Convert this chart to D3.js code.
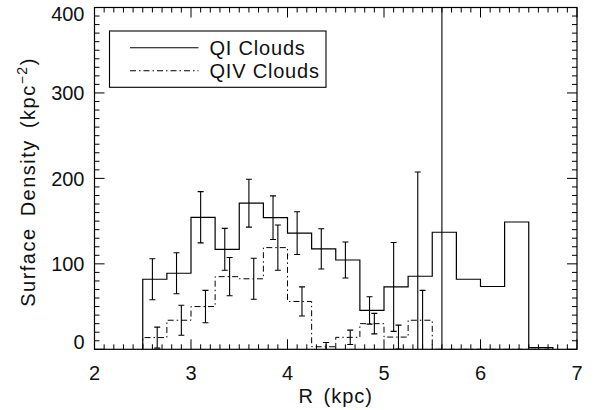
<!DOCTYPE html>
<html>
<head>
<meta charset="utf-8">
<script src="https://cdn.jsdelivr.net/npm/d3@7"></script>
<style>
  body { margin: 0; background: #fff; }
  text { font-family: "Liberation Sans", Arial, sans-serif; fill: #111; }
</style>
</head>
<body>
<div id="chart"></div>
<script>
const width = 597;
const height = 410;

// bin edges (kpc) shared by both histograms
const binEdges = [2.5, 2.75, 3.0, 3.25, 3.5, 3.75, 4.0, 4.25, 4.5, 4.75, 5.0, 5.25, 5.5, 5.75, 6.0, 6.25, 6.5, 6.75];

const qiDensity = [82, 89, 154.5, 117, 171, 154, 136, 117.5, 104.5, 45.5, 73, 85.5, 137, 82, 73.5, 149, 2];
const qivDensity = [13.7, 34, 50, 85, 82.5, 119, 56, 3, 14, 30, 14.3, 34, 0, 0, 0, 0, 0];

// error bars: position, value, +/- error
const qiErrR = [2.6, 2.85, 3.1, 3.35, 3.6, 3.85, 4.1, 4.35, 4.6, 4.85, 5.1, 5.35, 5.6];
const qiErrVal = [82, 89, 154.5, 117, 171, 154, 136, 117.5, 104.5, 45.5, 73, 85.5, 137];
const qiErr = [24, 24, 30, 24.5, 28, 25.5, 25, 23.5, 21, 16, 52, 122, 330];

const qivErrR = [2.65, 2.9, 3.15, 3.4, 3.65, 3.9, 4.15, 4.4, 4.65, 4.9, 5.15, 5.4];
const qivErrVal = [13.7, 34, 50, 85, 82.5, 119, 56, 3, 14, 30, 14.3, 34];
const qivErr = [12.3, 17.5, 19, 22.4, 24, 26.5, 17, 5, 8.4, 12, 14, 35];

const xMajor = [2, 3, 4, 5, 6, 7];
const yMajor = [0, 100, 200, 300, 400];

const legendItems = [
    { label: "QI Clouds", dash: null },
    { label: "QIV Clouds", dash: "6,3,1.5,3" }
];

const mLeft = 94.5, mRight = 577, mTop = 7.5, mBottom = 349.3;

const x = d3.scaleLinear().domain([2, 7]).range([mLeft, mRight]);
const y = d3.scaleLinear().domain([0, 400]).range([mBottom, mTop]);

const svg = d3.select("#chart")
    .append("svg")
    .attr("width", width)
    .attr("height", height);

svg.append("clipPath")
    .attr("id", "plot-clip")
    .append("rect")
    .attr("x", mLeft)
    .attr("y", mTop)
    .attr("width", mRight - mLeft)
    .attr("height", mBottom - mTop);

const plot = svg.append("g").attr("clip-path", "url(#plot-clip)");

// step histogram line
function stepPath(values) {
    const pts = [[binEdges[0], 0]];
    values.forEach((v, i) => {
        pts.push([binEdges[i], v]);
        pts.push([binEdges[i + 1], v]);
    });
    pts.push([binEdges[binEdges.length - 1], 0]);
    return d3.line().x(d => x(d[0])).y(d => y(d[1]))(pts);
}

plot.append("path")
    .attr("d", stepPath(qivDensity))
    .attr("fill", "none")
    .attr("stroke", "#000")
    .attr("stroke-width", 1)
    .attr("stroke-dasharray", "6,3,1.5,3");

plot.append("path")
    .attr("d", stepPath(qiDensity))
    .attr("fill", "none")
    .attr("stroke", "#000")
    .attr("stroke-width", 1.2);

// error bars
function errorBars(rs, vals, errs) {
    const data = rs.map((r, i) => ({ r: r, lo: vals[i] - errs[i], hi: vals[i] + errs[i] }));
    const g = plot.append("g")
        .attr("stroke", "#000")
        .attr("stroke-width", 1.1);
    g.selectAll(".bar")
        .data(data)
        .enter().append("line")
        .attr("x1", d => x(d.r))
        .attr("x2", d => x(d.r))
        .attr("y1", d => y(d.lo))
        .attr("y2", d => y(d.hi));
    g.selectAll(".cap-hi")
        .data(data)
        .enter().append("line")
        .attr("x1", d => x(d.r) - 3)
        .attr("x2", d => x(d.r) + 3)
        .attr("y1", d => y(d.hi))
        .attr("y2", d => y(d.hi));
    g.selectAll(".cap-lo")
        .data(data)
        .enter().append("line")
        .attr("x1", d => x(d.r) - 3)
        .attr("x2", d => x(d.r) + 3)
        .attr("y1", d => y(d.lo))
        .attr("y2", d => y(d.lo));
}

errorBars(qiErrR, qiErrVal, qiErr);
errorBars(qivErrR, qivErrVal, qivErr);

// frame
svg.append("rect")
    .attr("x", mLeft)
    .attr("y", mTop)
    .attr("width", mRight - mLeft)
    .attr("height", mBottom - mTop)
    .attr("fill", "none")
    .attr("stroke", "#000")
    .attr("stroke-width", 1.2);

// ticks, pointing inwards on all four sides
const xMinor = x.ticks(50);
const yMinor = y.ticks(40);
const ticks = svg.append("g").attr("stroke", "#000").attr("stroke-width", 1);
const isMajorX = d => xMajor.includes(Math.round(d * 10) / 10);

ticks.selectAll(".xt")
    .data(xMinor)
    .enter().append("line")
    .attr("x1", d => x(d)).attr("x2", d => x(d))
    .attr("y1", mBottom)
    .attr("y2", d => mBottom - (isMajorX(d) ? 10 : 5));
ticks.selectAll(".xtt")
    .data(xMinor)
    .enter().append("line")
    .attr("x1", d => x(d)).attr("x2", d => x(d))
    .attr("y1", mTop)
    .attr("y2", d => mTop + (isMajorX(d) ? 10 : 5));
ticks.selectAll(".yt")
    .data(yMinor)
    .enter().append("line")
    .attr("y1", d => y(d)).attr("y2", d => y(d))
    .attr("x1", mLeft)
    .attr("x2", d => mLeft + (yMajor.includes(d) ? 10 : 5));
ticks.selectAll(".ytr")
    .data(yMinor)
    .enter().append("line")
    .attr("y1", d => y(d)).attr("y2", d => y(d))
    .attr("x1", mRight)
    .attr("x2", d => mRight - (yMajor.includes(d) ? 10 : 5));

// tick labels
svg.selectAll(".xlab")
    .data(xMajor)
    .enter().append("text")
    .attr("x", d => x(d))
    .attr("y", 379.5)
    .attr("text-anchor", "middle")
    .attr("font-size", "20px")
    .text(d => d);

svg.selectAll(".ylab")
    .data(yMajor)
    .enter().append("text")
    .attr("x", 84.5)
    .attr("y", d => Math.min(Math.max(y(d), mTop + 6.5), mBottom - 7.5))
    .attr("dy", "0.36em")
    .attr("text-anchor", "end")
    .attr("font-size", "20px")
    .text(d => d);

// axis titles
svg.append("text")
    .attr("x", (mLeft + mRight) / 2)
    .attr("y", 403)
    .attr("text-anchor", "middle")
    .attr("font-size", "20px")
    .attr("letter-spacing", "1px")
    .attr("word-spacing", "3px")
    .text("R (kpc)");

const yTitle = svg.append("text")
    .attr("transform", "translate(35,182) rotate(-90)")
    .attr("text-anchor", "middle")
    .attr("font-size", "20px")
    .attr("letter-spacing", "1.5px")
    .attr("word-spacing", "4px");
yTitle.append("tspan").text("Surface Density (kpc");
yTitle.append("tspan").attr("dy", -8).attr("font-size", "14px").text("−2");
yTitle.append("tspan").attr("dy", 8).text(")");

// legend
svg.append("rect")
    .attr("x", 109.5)
    .attr("y", 31)
    .attr("width", 216.5)
    .attr("height", 56.3)
    .attr("fill", "#fff")
    .attr("stroke", "#000")
    .attr("stroke-width", 1.1);

const legend = svg.selectAll(".legend")
    .data(legendItems)
    .enter().append("g")
    .attr("transform", (d, i) => `translate(0,${47.7 + i * 23})`);

legend.append("line")
    .attr("x1", 130)
    .attr("x2", 198.5)
    .attr("stroke", "#000")
    .attr("stroke-width", 1.1)
    .attr("stroke-dasharray", d => d.dash);

legend.append("text")
    .attr("x", 209.5)
    .attr("dy", "0.36em")
    .attr("font-size", "20px")
    .attr("letter-spacing", "0.8px")
    .text(d => d.label);
</script>
</body>
</html>
